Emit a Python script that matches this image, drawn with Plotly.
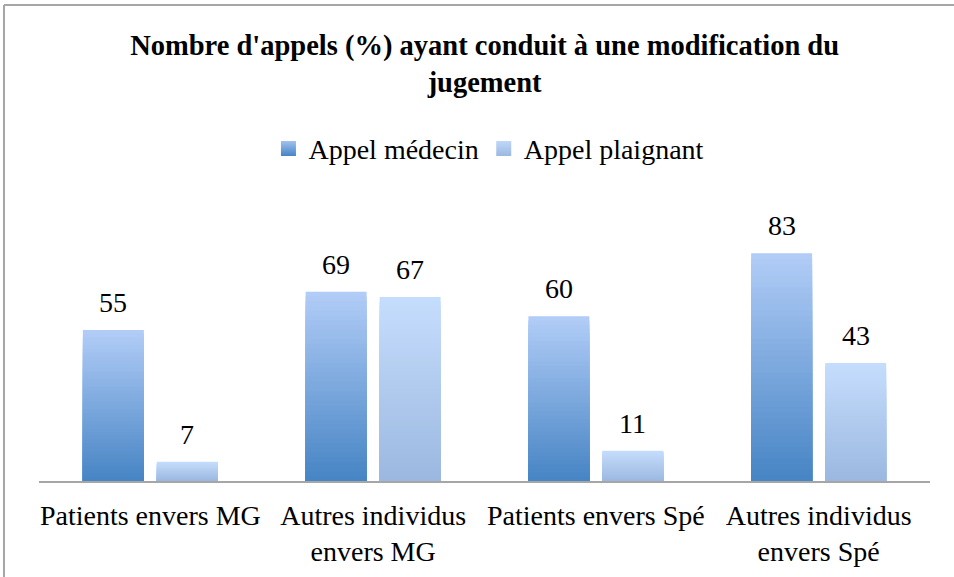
import plotly.graph_objects as go

categories = ["Patients envers MG", "Autres individus<br>envers MG",
              "Patients envers Spé", "Autres individus<br>envers Spé"]
appel_medecin = [55, 69, 60, 83]
appel_plaignant = [7, 67, 11, 43]
series_names = ["Appel médecin", "Appel plaignant"]

# gradient colour stops (bottom, top) per series
grad = {
    "Appel médecin": ((70, 132, 196), (178, 205, 247)),
    "Appel plaignant": ((155, 184, 224), (198, 221, 253)),
}
N = 40
FONT = "Liberation Serif"


def lerp(c0, c1, t):
    return "rgb(%d,%d,%d)" % tuple(round(a + (b - a) * t) for a, b in zip(c0, c1))


fig = go.Figure()
for name, vals, og in [(series_names[0], appel_medecin, "a"),
                       (series_names[1], appel_plaignant, "b")]:
    c0, c1 = grad[name]
    for k in range(N):
        f = 1 - k / N
        t = 1 - (k + 0.5) / N
        fig.add_trace(go.Bar(
            x=categories, y=[v * f for v in vals], name=name,
            offsetgroup=og, legendgroup=name, showlegend=False,
            marker=dict(color=lerp(c0, c1, t), line=dict(width=0)),
            hoverinfo="skip" if k else "all",
        ))
    # legend entry (square with vertical gradient)
    fig.add_trace(go.Scatter(
        x=[None], y=[None], mode="markers", name=name, legendgroup=name,
        marker=dict(symbol="square", size=15, color=lerp(c0, c1, 0.85),
                    gradient=dict(type="vertical", color=lerp(c0, c1, 0.0)),
                    line=dict(width=0)),
    ))

for vals, dx in [(appel_medecin, -37), (appel_plaignant, 37)]:
    for c, v in zip(categories, vals):
        fig.add_annotation(x=c, y=v, text=str(v), showarrow=False, xshift=dx,
                           yanchor="bottom", yshift=10,
                           font=dict(family=FONT, size=28, color="#000"))

# outer frame (top and left edges)
fig.add_shape(type="line", xref="paper", yref="paper", x0=-0.0393, x1=1.2, y0=1.927, y1=1.927,
              line=dict(color="#a6a6a6", width=2))
fig.add_shape(type="line", xref="paper", yref="paper", x0=-0.0393, x1=-0.0393, y0=1.927, y1=-0.5,
              line=dict(color="#a6a6a6", width=2))

fig.update_layout(
    width=954, height=577,
    margin=dict(l=39, r=24, t=234, b=96, autoexpand=False),
    paper_bgcolor="white", plot_bgcolor="white",
    barmode="group", bargap=0.3356, bargroupgap=0.176,
    font=dict(family=FONT, size=28, color="#000"),
    title=dict(text="<b>Nombre d'appels (%) ayant conduit à une modification du<br>jugement</b>",
               x=0.508, xanchor="center", y=0.905, yanchor="middle",
               font=dict(family=FONT, size=28.5, color="#000")),
    legend=dict(orientation="h", x=0.505, xanchor="center", y=1.345, yanchor="middle",
                font=dict(size=28), bgcolor="rgba(0,0,0,0)"),
    xaxis=dict(showline=True, linecolor="#a6a6a6", linewidth=2, ticks="",
               ticklabelstandoff=8, tickfont=dict(size=28), showgrid=False,
               fixedrange=True, automargin=False),
    yaxis=dict(range=[0, 90], visible=False, showgrid=False, fixedrange=True,
               automargin=False),
)

fig.write_html("out.html", config={"displayModeBar": False},
               post_script="document.body.style.margin='0';")
